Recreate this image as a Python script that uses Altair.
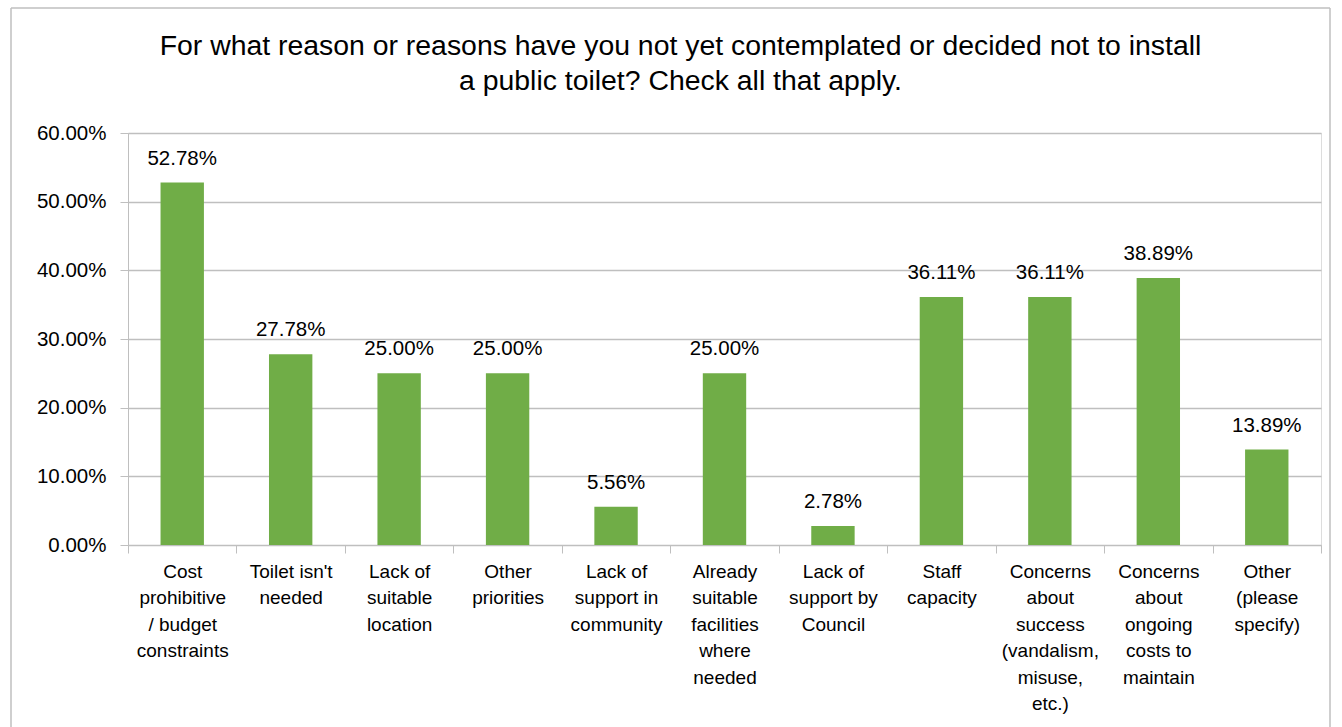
import altair as alt
import pandas as pd

categories = [
    "Cost\nprohibitive\n/ budget\nconstraints",
    "Toilet isn't\nneeded",
    "Lack of\nsuitable\nlocation",
    "Other\npriorities",
    "Lack of\nsupport in\ncommunity",
    "Already\nsuitable\nfacilities\nwhere\nneeded",
    "Lack of\nsupport by\nCouncil",
    "Staff\ncapacity",
    "Concerns\nabout\nsuccess\n(vandalism,\nmisuse,\netc.)",
    "Concerns\nabout\nongoing\ncosts to\nmaintain",
    "Other\n(please\nspecify)",
]
values = [0.5278, 0.2778, 0.25, 0.25, 0.0556, 0.25, 0.0278, 0.3611, 0.3611, 0.3889, 0.1389]
y_ticks = [0, 0.1, 0.2, 0.3, 0.4, 0.5, 0.6]

df = pd.DataFrame({"cat": categories, "val": values})

FONT = "Liberation Sans"
W, H = 1193, 412

x = alt.X("cat:N", sort=categories,
          scale=alt.Scale(paddingInner=0, paddingOuter=0),
          axis=alt.Axis(title=None, labelAngle=0, tickBand="extent",
                        labelExpr="datum.value ? split(datum.value, '\\n') : ''",
                        labelFont=FONT, labelFontSize=19, labelColor="#000000",
                        labelLineHeight=26.5, labelPadding=9, labelBaseline="top",
                        tickSize=8, tickColor="#BFBFBF", domainColor="#BFBFBF",
                        labelLimit=200, grid=False))
y = alt.Y("val:Q", scale=alt.Scale(domain=[0, 0.6], nice=False),
          axis=alt.Axis(title=None, values=y_ticks, format=".2%",
                        labelFont=FONT, labelFontSize=20.5, labelColor="#000000",
                        labelPadding=14, tickSize=8, tickColor="#BFBFBF",
                        domainColor="#BFBFBF", gridColor="#BFBFBF", gridWidth=1.3))

base = alt.Chart(df)
bars = base.mark_bar(color="#70AD47", width=alt.RelativeBandSize(0.4)).encode(x=x, y=y)
labels = base.mark_text(font=FONT, fontSize=20.5, color="#000000", baseline="bottom", dy=-14).encode(
    x=alt.X("cat:N", sort=categories), y="val:Q", text=alt.Text("val:Q", format=".2%"))

border = alt.Chart(pd.DataFrame({"a": [0]})).mark_rule(color="#BFBFBF", strokeWidth=1.5)
b_left = border.encode(x=alt.value(-117), y=alt.value(-125), y2=alt.value(H + 200))
b_top = border.encode(x=alt.value(-117), x2=alt.value(1202), y=alt.value(-125))
b_right = border.encode(x=alt.value(1202), y=alt.value(-125), y2=alt.value(H + 200))

chart = alt.layer(bars, labels, b_left, b_top, b_right).properties(
    width=W, height=H,
    autosize=alt.AutoSizeParams(type="none"),
    padding={"left": 128, "top": 133, "right": 21, "bottom": 182},
    title=alt.TitleParams(
        ["For what reason or reasons have you not yet contemplated or decided not to install",
         "a public toilet? Check all that apply."],
        font=FONT, fontSize=28.4, fontWeight="normal", color="#000000",
        anchor="middle", frame="group", dx=-44, offset=-89, lineHeight=35),
).configure_view(stroke=None).configure(background="white")

chart.save("out.html", embed_options={"renderer": "svg", "actions": False})
